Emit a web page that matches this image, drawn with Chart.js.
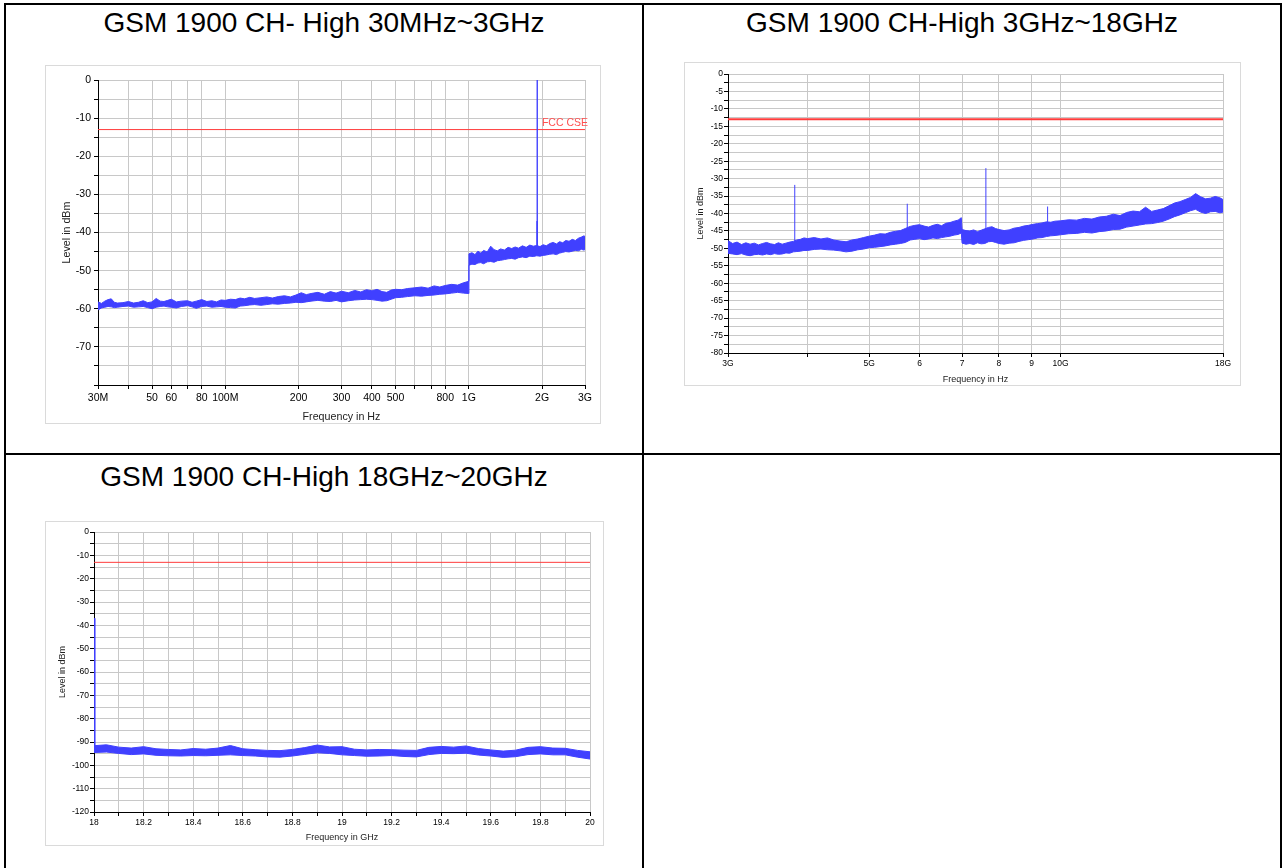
<!DOCTYPE html>
<html><head><meta charset="utf-8">
<script src="https://cdn.jsdelivr.net/npm/chart.js@4/dist/chart.umd.min.js"></script>
<style>
html,body{margin:0;padding:0;background:#fff;}
#page{position:relative;width:1282px;height:868px;overflow:hidden;font-family:"Liberation Sans",Arial,sans-serif;background:#fff;}
.b{position:absolute;background:#000;}
.t{position:absolute;font-size:28px;line-height:32px;white-space:nowrap;text-align:center;color:#000;}
.f{position:absolute;border:1px solid #dadada;box-sizing:border-box;background:#fff;}
canvas{position:absolute;}
</style></head>
<body>
<div id="page">
  <div class="b" style="left:4px;top:3px;width:1278px;height:2px;"></div>
  <div class="b" style="left:4px;top:3px;width:2px;height:865px;"></div>
  <div class="b" style="left:642px;top:3px;width:2px;height:865px;"></div>
  <div class="b" style="left:1280px;top:3px;width:2px;height:865px;"></div>
  <div class="b" style="left:4px;top:453px;width:1278px;height:2px;"></div>

  <div class="t" style="left:6px;width:636px;top:7px;">GSM 1900 CH- High 30MHz~3GHz</div>
  <div class="t" style="left:644px;width:636px;top:7px;">GSM 1900 CH-High 3GHz~18GHz</div>
  <div class="t" style="left:6px;width:636px;top:461px;">GSM 1900 CH-High 18GHz~20GHz</div>

  <div class="f" style="left:45px;top:65px;width:556px;height:359px;"></div>
  <canvas id="c1" width="554" height="357" style="left:46px;top:66px;"></canvas>

  <div class="f" style="left:684px;top:62px;width:557px;height:324px;"></div>
  <canvas id="c2" width="555" height="322" style="left:685px;top:63px;"></canvas>

  <div class="f" style="left:45px;top:521px;width:559px;height:325px;"></div>
  <canvas id="c3" width="557" height="323" style="left:46px;top:522px;"></canvas>
</div>
<script>
// ---------- shared ----------
const limitLevel = -13;
const limitName = 'FCC CSE';

// ---------- Chart 1: 30 MHz ~ 3 GHz (frequency in MHz) ----------
const c1Freq = [30,31,32,33,34,35,36,38,40,42,
  44,46,48,50,52,54,56,58,60,63,
  66,70,73,76,80,84,88,92,96,100,
  105,110,115,120,126,132,140,148,156,165,
  175,185,195,205,215,225,240,255,270,285,
  300,320,340,360,380,400,420,440,460,480,
  500,530,560,600,640,680,720,760,800,850,
  900,950,1000,
  1001,1030,1060,1090,1120,1150,1190,1230,1270,1310,
  1350,1400,1450,1500,1550,1600,1660,1720,1780,1840,
  1900,1960,2020,2080,2150,2220,2290,2360,2430,2500,
  2580,2660,2740,2820,2900,2960,3000];
const c1Upper = [-58.2,-58.6,-58.0,-57.6,-57.4,-58.3,-58.5,-58.4,-58.1,-58.5,
  -58.3,-57.9,-58.4,-58.2,-57.3,-58.0,-58.1,-57.8,-57.5,-58.2,
  -58.0,-57.9,-58.3,-58.0,-57.6,-58.1,-57.9,-58.2,-57.7,-57.8,
  -57.5,-57.6,-57.2,-57.4,-57.0,-57.3,-57.1,-56.9,-57.2,-56.8,
  -56.6,-56.9,-56.4,-55.8,-56.3,-56.0,-55.7,-56.2,-55.5,-55.9,
  -55.4,-55.8,-55.2,-55.6,-55.0,-55.3,-54.9,-55.5,-55.7,-55.1,
  -54.9,-55.0,-54.7,-54.5,-54.3,-54.6,-54.0,-54.3,-53.9,-53.6,
  -53.8,-53.2,-52.8,
  -45.6,-45.3,-45.8,-44.9,-45.4,-44.7,-45.1,-43.6,-44.5,-44.8,
  -44.3,-44.6,-43.9,-44.2,-43.8,-44.1,-43.5,-43.9,-43.3,-43.6,
  -43.4,-43.7,-43.2,-43.5,-42.9,-42.6,-43.0,-42.4,-42.7,-42.1,
  -42.3,-41.8,-42.1,-41.5,-41.2,-40.9,-41.0];
const c1Lower = [-60.3,-59.8,-59.6,-59.4,-59.5,-59.7,-59.6,-59.4,-59.3,-59.6,
  -59.5,-59.4,-59.7,-60.0,-59.6,-59.4,-59.3,-59.5,-59.6,-59.8,
  -59.4,-59.2,-59.5,-59.9,-59.4,-59.3,-59.6,-59.5,-59.4,-59.6,
  -59.7,-59.8,-59.3,-59.2,-59.0,-58.9,-59.1,-58.9,-58.7,-58.8,
  -58.6,-58.5,-58.3,-58.4,-58.2,-58.0,-57.8,-58.0,-58.1,-57.8,
  -58.2,-57.9,-57.7,-57.6,-57.5,-57.6,-57.8,-58.0,-57.9,-57.5,
  -57.1,-57.0,-56.8,-56.6,-56.7,-56.5,-56.4,-56.2,-56.1,-55.9,
  -55.7,-55.9,-56.0,
  -48.6,-48.3,-48.4,-48.0,-47.9,-48.2,-47.7,-47.6,-47.8,-47.4,
  -47.3,-47.1,-46.9,-46.8,-47.0,-46.6,-46.4,-46.6,-46.2,-46.3,
  -46.1,-46.2,-46.0,-45.9,-45.7,-45.6,-45.8,-45.4,-45.2,-45.0,
  -45.1,-44.9,-44.7,-44.8,-44.4,-44.6,-44.5];
const c1SpikeFreq = [1905, 1907, 1908, 1909.8, 1911.5];
const c1SpikeLevel = [-45, -37, -44, 0, -45];
const c1XTickValues = [30,40,50,60,70,80,100,200,300,400,500,600,700,800,1000,2000,3000];
const c1XTickLabels = ['30M','','50','60','','80','100M','200','300','400','500','','','800','1G','2G','3G'];

// ---------- Chart 2: 3 GHz ~ 18 GHz (frequency in GHz) ----------
const c2Freq = [3.00,3.05,3.10,3.15,3.20,3.25,3.30,3.35,3.40,3.45,3.50,3.55,3.60,3.65,3.70,3.75,3.80,
  3.85,3.90,3.95,4.00,4.10,4.20,4.30,4.40,4.50,4.60,4.70,4.80,4.90,5.00,5.10,5.20,5.30,5.40,5.50,5.60,5.70,
  5.80,5.90,6.00,6.10,6.20,6.30,6.40,6.50,6.60,6.70,6.80,6.90,6.98,
  7.00,7.10,7.20,7.30,7.40,7.50,7.60,7.70,7.80,7.90,8.00,8.15,8.30,8.45,8.60,8.75,8.90,9.05,9.20,9.35,9.50,9.65,9.80,10.0,
  10.3,10.6,10.9,11.2,11.5,11.8,12.1,12.4,12.7,13.0,13.3,13.6,13.9,14.2,14.5,14.8,15.1,15.4,15.7,16.0,16.3,16.6,16.9,17.2,17.5,17.8,18.0];
const c2Upper = [-47.8,-48.6,-48.2,-48.9,-48.4,-48.8,-48.5,-49.0,-48.6,-48.3,-48.7,-48.9,-48.4,-48.8,-48.5,-48.2,-48.0,
  -47.6,-47.4,-47.0,-47.2,-46.9,-47.3,-47.0,-47.6,-47.9,-48.1,-47.6,-47.3,-46.9,-46.5,-46.2,-45.8,-45.9,-45.4,-45.1,-44.9,-44.3,
  -43.7,-43.4,-43.2,-43.6,-43.9,-43.4,-43.1,-43.5,-42.8,-42.6,-42.2,-41.9,-41.2,
  -44.6,-44.9,-45.0,-44.7,-45.2,-44.8,-44.4,-44.0,-43.8,-44.3,-44.6,-44.9,-44.7,-44.2,-44.0,-43.6,-43.4,-43.1,-42.9,-42.7,-42.4,-42.5,-42.2,-42.1,
  -41.8,-41.9,-41.4,-41.6,-41.0,-40.8,-40.2,-40.6,-39.7,-39.3,-39.5,-38.2,-39.4,-39.0,-38.6,-37.8,-37.0,-36.6,-36.0,-35.4,-34.3,-35.2,-35.8,-35.6,-35.1,-35.5,-36.0];
const c2Lower = [-51.4,-51.6,-51.8,-51.5,-51.9,-52.1,-51.8,-51.7,-51.9,-51.6,-51.8,-51.5,-51.7,-51.6,-51.3,-51.4,-51.0,
  -50.9,-50.8,-50.6,-50.6,-50.3,-50.2,-50.4,-50.5,-50.7,-51.0,-50.8,-50.4,-50.2,-49.8,-49.7,-49.5,-49.3,-49.0,-48.8,-48.6,-48.3,
  -47.6,-47.4,-47.2,-47.5,-47.3,-47.0,-47.2,-46.9,-46.7,-46.5,-46.2,-46.0,-45.6,
  -48.5,-48.8,-48.6,-48.9,-48.4,-48.7,-48.6,-48.1,-48.0,-48.3,-48.6,-48.8,-48.5,-48.4,-48.0,-47.7,-47.5,-47.3,-47.0,-46.9,-46.6,-46.4,-46.3,-46.1,
  -45.8,-45.7,-45.4,-45.6,-45.2,-45.0,-44.6,-44.5,-43.9,-43.6,-43.3,-43.0,-42.9,-42.6,-42.2,-41.6,-40.9,-40.4,-39.8,-39.2,-38.8,-39.6,-40.0,-39.5,-39.4,-39.8,-39.6];
const c2SpikeFreq = [3.82, 5.74, 7.63, 9.54];
const c2SpikeBase = [-48.5, -45.0, -46.5, -44.5];
const c2SpikeLevel = [-31.8, -37.2, -27.0, -38.0];
const c2XTickValues = [3,4,5,6,7,8,9,10,18];
const c2XTickLabels = ['3G','','5G','6','7','8','9','10G','18G'];

// ---------- Chart 3: 18 GHz ~ 20 GHz (frequency in GHz) ----------
const c3Freq = [18.00,18.05,18.10,18.15,18.20,18.25,18.30,18.35,18.40,18.45,
  18.50,18.55,18.60,18.65,18.70,18.75,18.80,18.85,18.90,18.95,
  19.00,19.05,19.10,19.15,19.20,19.25,19.30,19.35,19.40,19.45,
  19.50,19.55,19.60,19.65,19.70,19.75,19.80,19.85,19.90,19.95,20.00];
const c3Upper = [-91.6,-91.2,-92.2,-92.6,-92.0,-92.9,-93.2,-93.4,-92.8,-93.1,
  -92.6,-91.5,-92.9,-93.3,-93.6,-93.7,-93.2,-92.4,-91.3,-92.1,
  -92.0,-93.1,-93.4,-93.2,-93.3,-93.5,-93.6,-92.3,-91.9,-92.2,
  -91.7,-92.8,-93.4,-93.9,-93.5,-92.3,-92.0,-92.6,-92.7,-93.6,-94.2];
const c3Lower = [-94.5,-94.3,-94.9,-95.4,-95.1,-95.7,-95.9,-96.0,-95.8,-95.9,
  -95.7,-95.5,-95.8,-96.0,-96.4,-96.5,-96.0,-95.3,-94.6,-94.9,
  -95.5,-95.8,-96.1,-96.0,-95.8,-96.2,-96.4,-95.4,-94.9,-95.0,
  -94.8,-95.6,-96.0,-96.6,-96.3,-95.4,-95.1,-95.5,-95.5,-96.5,-97.3];
const c3StartFreq = [18.003, 18.003];
const c3StartLevel = [-37, -92];

// ---------- helpers ----------
const FONT = "'Liberation Sans', Arial, sans-serif";
const BLUE = 'rgb(64,64,255)';
const RED = 'rgb(255,60,60)';
function pts(xs, ys) { return xs.map((x, i) => ({x: x, y: ys[i]})); }
function spikePts(f, base, peak) {
  const out = [];
  for (let i = 0; i < f.length; i++) {
    out.push({x: f[i], y: base[i]}, {x: f[i], y: peak[i]}, {x: f[i], y: null});
  }
  return out;
}
function grid() {
  return {color: '#c8c8c8', lineWidth: 1, tickColor: '#000', tickLength: 4, drawTicks: true};
}
const limitLabel = {
  id: 'limitLabel',
  afterDatasetsDraw(chart, args, opts) {
    if (!opts || !opts.show) return;
    const {ctx, chartArea, scales} = chart;
    ctx.save();
    ctx.fillStyle = 'rgb(255,80,80)';
    ctx.font = '10.5px ' + FONT;
    ctx.textAlign = 'right';
    ctx.textBaseline = 'bottom';
    ctx.fillText(limitName, chartArea.right + 3, scales.y.getPixelForValue(limitLevel) - 1);
    ctx.restore();
  }
};

function makeChart(id, cfg) {
  const ds = [
    {data: pts(cfg.freq, cfg.upper), borderColor: BLUE, borderWidth: 1, pointRadius: 0, fill: false, tension: 0},
    {data: pts(cfg.freq, cfg.lower), borderColor: BLUE, borderWidth: 1, pointRadius: 0, fill: '-1', backgroundColor: BLUE, tension: 0},
    {data: cfg.spikes, borderColor: BLUE, borderWidth: 1, pointRadius: 0, fill: false, spanGaps: false},
    {data: [{x: cfg.xmin, y: limitLevel}, {x: cfg.xmax, y: limitLevel}], borderColor: RED, borderWidth: cfg.limitWidth, pointRadius: 0, fill: false}
  ];
  const xScale = {
    type: cfg.xType, min: cfg.xmin, max: cfg.xmax,
    grid: grid(),
    border: {display: true, color: '#000', width: 1},
    ticks: {autoSkip: false, maxRotation: 0, minRotation: 0, color: '#000', padding: cfg.xPad,
      font: {family: FONT, size: cfg.tickSize}, callback: cfg.xLabel},
    title: {display: true, text: cfg.xTitle, color: '#222', font: {family: FONT, size: cfg.titleSize},
      padding: {top: 0, bottom: cfg.xTitlePad}},
    afterFit: s => { s.height = cfg.xHeight; }
  };
  if (cfg.xStep) xScale.ticks.stepSize = cfg.xStep;
  if (cfg.xTicks) xScale.afterBuildTicks = s => { s.ticks = cfg.xTicks.map(v => ({value: v})); };
  const yScale = {
    type: 'linear', min: cfg.ymin, max: 0,
    grid: grid(),
    border: {display: true, color: '#000', width: 1},
    ticks: {autoSkip: false, stepSize: cfg.yStep, color: '#000', padding: cfg.yPad,
      font: {family: FONT, size: cfg.tickSize}, callback: cfg.yLabel},
    title: {display: true, text: 'Level in dBm', color: '#222', font: {family: FONT, size: cfg.titleSize},
      padding: {top: cfg.yTitlePad, bottom: 0}},
    afterFit: s => { s.width = cfg.yWidth; }
  };
  return new Chart(document.getElementById(id), {
    type: 'line',
    data: {datasets: ds},
    options: {
      responsive: false, animation: false, devicePixelRatio: 1,
      layout: {padding: {left: 0, top: cfg.padTop, right: cfg.padRight, bottom: 0}},
      plugins: {legend: {display: false}, tooltip: {enabled: false}, limitLabel: {show: !!cfg.showLimitLabel}},
      scales: {x: xScale, y: yScale}
    },
    plugins: [limitLabel]
  });
}

makeChart('c1', {
  freq: c1Freq, upper: c1Upper, lower: c1Lower,
  spikes: pts(c1SpikeFreq, c1SpikeLevel),
  xType: 'logarithmic', xmin: 30, xmax: 3000, xTicks: c1XTickValues,
  xLabel: v => { const i = c1XTickValues.indexOf(v); return i >= 0 ? c1XTickLabels[i] : ''; },
  ymin: -80, yStep: 5, yLabel: v => (v % 10 === 0 && v !== -80) ? String(v) : '',
  xTitle: 'Frequency in Hz', tickSize: 10.5, titleSize: 10.7,
  xPad: 3, yPad: 3, xTitlePad: 0, yTitlePad: 14.6,
  xHeight: 38, yWidth: 52, padTop: 14, padRight: 15, limitWidth: 1, showLimitLabel: true
});

makeChart('c2', {
  freq: c2Freq, upper: c2Upper, lower: c2Lower,
  spikes: spikePts(c2SpikeFreq, c2SpikeBase, c2SpikeLevel),
  xType: 'logarithmic', xmin: 3, xmax: 18, xTicks: c2XTickValues,
  xLabel: v => { const i = c2XTickValues.indexOf(v); return i >= 0 ? c2XTickLabels[i] : ''; },
  ymin: -80, yStep: 2.5, yLabel: v => (v % 5 === 0) ? String(v) : '',
  xTitle: 'Frequency in Hz', tickSize: 8.5, titleSize: 9,
  xPad: 2, yPad: 1, xTitlePad: 0, yTitlePad: 10.6,
  xHeight: 32, yWidth: 43, padTop: 11, padRight: 17, limitWidth: 2
});

makeChart('c3', {
  freq: c3Freq, upper: c3Upper, lower: c3Lower,
  spikes: pts(c3StartFreq, c3StartLevel),
  xType: 'linear', xmin: 18, xmax: 20, xStep: 0.1,
  xLabel: v => (Math.round(v * 10) % 2 === 0) ? String(Math.round(v * 10) / 10) : '',
  ymin: -120, yStep: 5, yLabel: v => (v % 10 === 0) ? String(v) : '',
  xTitle: 'Frequency in GHz', tickSize: 8.5, titleSize: 9,
  xPad: 2, yPad: 1, xTitlePad: 1.6, yTitlePad: 11.6,
  xHeight: 33, yWidth: 48, padTop: 10, padRight: 13, limitWidth: 1
});
</script>
</body></html>
